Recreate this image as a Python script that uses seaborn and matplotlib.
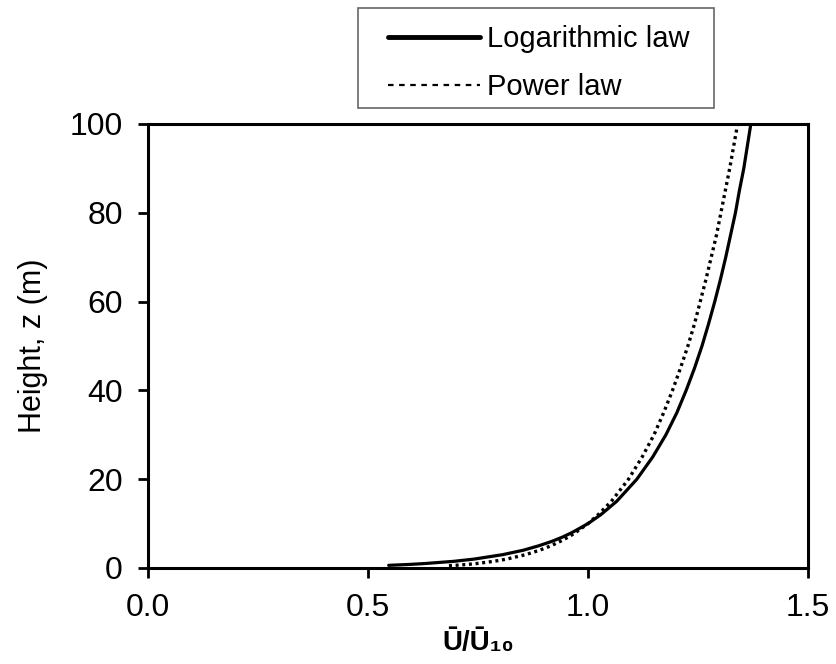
import seaborn as sns
import matplotlib.pyplot as plt
from matplotlib.lines import Line2D
from matplotlib.patches import Rectangle
import pandas as pd

# values
log_height = [0.6, 0.8, 1, 1.5, 2, 3, 4, 5, 6, 7, 8, 10, 12, 15, 20, 25, 30, 35,
              40, 45, 50, 55, 60, 65, 70, 75, 80, 85, 90, 95, 100]
log_speed = [0.547, 0.594, 0.629, 0.695, 0.741, 0.806, 0.853, 0.888, 0.918, 0.943,
             0.964, 1.0, 1.029, 1.065, 1.111, 1.147, 1.177, 1.202, 1.223, 1.242,
             1.259, 1.274, 1.288, 1.301, 1.313, 1.324, 1.335, 1.344, 1.354, 1.362, 1.370]
pow_height = [0.5, 0.8, 1, 1.5, 2, 3, 4, 5, 6, 7, 8, 10, 12, 15, 20, 25, 30, 35,
              40, 45, 50, 55, 60, 65, 70, 75, 80, 85, 90, 95, 100]
pow_speed = [0.684, 0.726, 0.747, 0.786, 0.815, 0.858, 0.890, 0.916, 0.937, 0.956,
             0.972, 1.0, 1.023, 1.053, 1.092, 1.123, 1.150, 1.172, 1.192, 1.210,
             1.227, 1.242, 1.255, 1.268, 1.280, 1.292, 1.302, 1.312, 1.322, 1.331, 1.340]
x_ticks = [0.0, 0.5, 1.0, 1.5]
y_ticks = [0, 20, 40, 60, 80, 100]

log_df = pd.DataFrame({"U": log_speed, "z": log_height})
pow_df = pd.DataFrame({"U": pow_speed, "z": pow_height})

sns.set_style("ticks")
plt.rcParams["font.family"] = ["Liberation Sans", "DejaVu Sans"]
plt.rcParams["text.color"] = "black"
plt.rcParams["axes.labelcolor"] = "black"

fig = plt.figure(figsize=(8.37, 6.64), dpi=100)
ax = fig.add_axes([0.1768, 0.1446, 0.7886, 0.6687])

sns.lineplot(data=log_df, x="U", y="z", sort=False, color="black", lw=2.3, ax=ax)
sns.lineplot(data=pow_df, x="U", y="z", sort=False, color="black", lw=2.4,
             linestyle=(0, (0.9, 1.1)), ax=ax)

ax.set_xlim(0, 1.5)
ax.set_ylim(0, 100)
ax.set_xticks(x_ticks)
ax.set_xticklabels([f"{t:.1f}" for t in x_ticks])
ax.set_yticks(y_ticks)
ax.tick_params(direction="out", length=7, width=2, labelsize=23, colors="black", pad=11)
for side in ["top", "right", "bottom", "left"]:
    ax.spines[side].set_visible(True)
    ax.spines[side].set_linewidth(2.2)
    ax.spines[side].set_color("black")

ax.set_ylabel("Height, z (m)", fontsize=22, labelpad=16)
ax.set_xlabel("Ū/Ū₁₀", fontsize=20, fontweight="bold", labelpad=5)

# legend box sits above the axes
fig.add_artist(Rectangle((358 / 837, 1 - 108 / 664), 356 / 837, 100 / 664,
                         transform=fig.transFigure, fill=False,
                         edgecolor="#666666", lw=1.2))
handles = [Line2D([], [], color="black", lw=3.5),
           Line2D([], [], color="black", lw=1.6, linestyle=(0, (2.5, 2.5)))]
labels = ["Logarithmic law", "Power law"]
fig.legend(handles, labels, loc="upper left", bbox_to_anchor=(388 / 837, 1 - 25 / 664),
           frameon=False, fontsize=21, handlelength=3.15, handletextpad=0.25,
           borderpad=0, labelspacing=0.68, borderaxespad=0)

plt.savefig("out.png", dpi=100)
plt.close()
